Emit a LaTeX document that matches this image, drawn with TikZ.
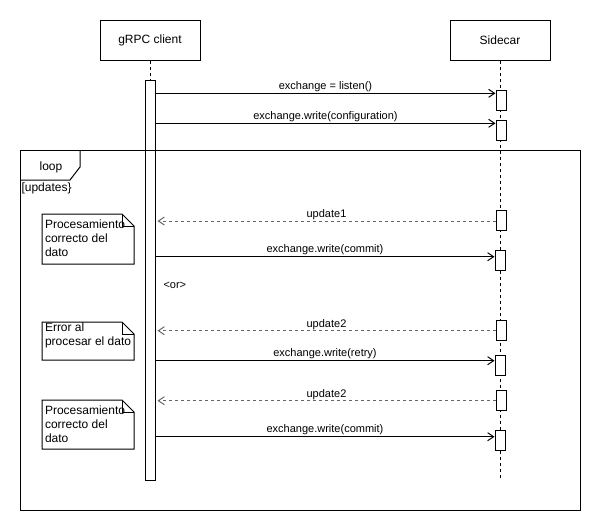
\documentclass[tikz,border=0pt]{standalone}
\usepackage{fontspec}
\setmainfont{Liberation Sans}
\usetikzlibrary{arrows.meta}
\begin{document}
\begin{tikzpicture}[x=1pt,y=-1pt,line width=1pt,
  actor/.style={draw,minimum width=100pt,minimum height=40pt,inner sep=0pt,font=\fontsize{12}{14}\selectfont},
  act/.style={draw,fill=white,minimum width=10pt,minimum height=20pt,inner sep=0pt},
  life/.style={dash pattern=on 3pt off 3pt},
  msg/.style={-{Straight Barb[length=6pt,width=8pt]}},
  rep/.style={-{Straight Barb[length=6pt,width=8pt]},dash pattern=on 3pt off 3pt,draw=black!60},
  lbl/.style={anchor=base,inner sep=0pt,font=\fontsize{11}{13}\selectfont},
  notetxt/.style={anchor=north west,inner sep=0pt,align=left,font=\fontsize{12}{14}\selectfont},
  notebox/.style={draw,fill=white,line join=miter}]
\useasboundingbox (0,0) rectangle (601,531);
% participants
\node[actor] (client) at (150,40) {gRPC client};
\node[actor] (side) at (500,40) {Sidecar};
% lifelines
\coordinate (sideend) at (500,480);
\draw[life] (side.south) -- (sideend);
\draw[life] (client.south) -- (150,80);
\node[act,minimum height=400pt] (ca) at (150,280) {};
% sidecar activations
\node[act] (s1) at (501,100) {};
\node[act] (s2) at (501,130) {};
\node[act] (s3) at (501,220) {};
\node[act] (s4) at (500,260) {};
\node[act] (s5) at (501,330) {};
\node[act] (s6) at (500,365) {};
\node[act] (s7) at (501,400) {};
\node[act] (s8) at (500,440) {};
% loop frame
\draw (20,150) rectangle (580,510);
\draw (20,180) -- (70,180) -- (80,167) -- (80,150);
\node[font=\fontsize{12}{14}\selectfont,inner sep=0pt] (looplbl) at (51,167) {loop};
\node[anchor=west,inner sep=0pt,font=\fontsize{12}{14}\selectfont] (cond) at (21,188) {[updates\}};
% messages
\coordinate (m1) at (s1.west |- 0,93.3);
\coordinate (m2) at (s2.west |- 0,123.3);
\draw[msg] (ca.east |- m1) -- (m1) node[lbl,midway,above=4pt,anchor=base] {exchange = listen()};
\draw[msg] (ca.east |- m2) -- (m2) node[lbl,midway,above=4pt,anchor=base] {exchange.write(configuration)};
\coordinate (r1) at (s3.west |- 0,221);
\coordinate (m3) at (s4.west |- 0,256.7);
\coordinate (r2) at (s5.west |- 0,330.7);
\coordinate (m4) at (s6.west |- 0,360.7);
\coordinate (r3) at (s7.west |- 0,400.7);
\coordinate (m5) at (s8.west |- 0,436.7);
\draw[rep] (r1) -- ([xshift=2pt]ca.east |- r1) node[lbl,midway,above=3.5pt,anchor=base,text=black] {update1};
\draw[msg] (ca.east |- m3) -- (m3) node[lbl,midway,above=4pt,anchor=base] {exchange.write(commit)};
\draw[rep] (r2) -- ([xshift=2pt]ca.east |- r2) node[lbl,midway,above=3.5pt,anchor=base,text=black] {update2};
\draw[msg] (ca.east |- m4) -- (m4) node[lbl,midway,above=4pt,anchor=base] {exchange.write(retry)};
\draw[rep] (r3) -- ([xshift=2pt]ca.east |- r3) node[lbl,midway,above=3.5pt,anchor=base,text=black] {update2};
\draw[msg] (ca.east |- m5) -- (m5) node[lbl,midway,above=4pt,anchor=base] {exchange.write(commit)};
\node[lbl,anchor=west] (or) at (163,285) {<or>};
% notes
\draw[notebox] (42,214) -- (122,214) -- (134,226) -- (134,264) -- (42,264) -- cycle;
\draw (122,214) -- (122,226) -- (134,226);
\node[notetxt] (n1) at (44.5,219.5) {Procesamiento\\correcto del\\dato};
\draw[notebox] (42,322) -- (122,322) -- (134,334) -- (134,360) -- (42,360) -- cycle;
\draw (122,322) -- (122,334) -- (134,334);
\node[notetxt] (n2) at (44.5,322.5) {Error al\\procesar el dato};
\draw[notebox] (42,400) -- (122,400) -- (134,412) -- (134,449) -- (42,449) -- cycle;
\draw (122,400) -- (122,412) -- (134,412);
\node[notetxt] (n3) at (44.5,405) {Procesamiento\\correcto del\\dato};
\end{tikzpicture}
\end{document}
